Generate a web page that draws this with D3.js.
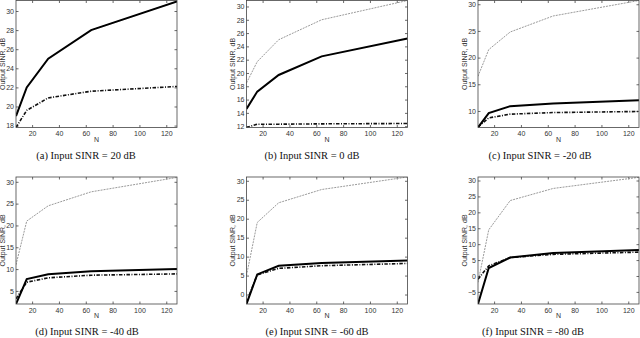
<!DOCTYPE html>
<html>
<head>
<meta charset="utf-8">
<script src="https://cdn.jsdelivr.net/npm/d3@7"></script>
<style>
  body { margin: 0; background: #fff; }
  svg { display: block; }
  .tick text { font-family: "Liberation Sans", Arial, sans-serif; font-size: 7px; fill: #333; }
  .ylab, .xlab { font-family: "Liberation Sans", Arial, sans-serif; font-size: 7px; fill: #333; }
  .cap { font-family: "Liberation Serif", "Times New Roman", serif; font-size: 10.5px; fill: #111; }
</style>
</head>
<body>
<main></main>
<script>
// データ
const N = [8, 16, 32, 64, 128];
const xTicks = [20, 40, 60, 80, 100, 120];
const captions = [
  "(a) Input SINR = 20 dB", "(b) Input SINR = 0 dB", "(c) Input SINR = -20 dB",
  "(d) Input SINR = -40 dB", "(e) Input SINR = -60 dB", "(f) Input SINR = -80 dB"
];
const yDomains = [[17.8, 31.1], [11.8, 30.9], [6.9, 30.7], [2, 31.1], [-2.5, 31], [-8.8, 31.1]];
const yTicks = [
  [18, 20, 22, 24, 26, 28, 30],
  [12, 14, 16, 18, 20, 22, 24, 26, 28, 30],
  [10, 15, 20, 25, 30],
  [5, 10, 15, 20, 25, 30],
  [0, 5, 10, 15, 20, 25, 30],
  [-5, 0, 5, 10, 15, 20, 25, 30]
];
// 灰色の点線
const grayVals = [
  [19, 22, 25, 28, 31],
  [18.5, 21.7, 25, 28, 30.9],
  [16.5, 21.5, 24.8, 27.8, 30.7],
  [11, 21, 24.5, 27.7, 31],
  [5, 19, 24.2, 27.7, 31],
  [-2, 14.5, 23.7, 27.5, 31]
];
// 黒の実線
const solidVals = [
  [19, 22, 25, 28, 31],
  [14.6, 17.2, 19.7, 22.5, 25.2],
  [6.9, 9.6, 10.9, 11.4, 12],
  [2, 7.7, 8.8, 9.5, 10],
  [-2.5, 5.3, 7.6, 8.3, 9],
  [-8.8, 2.5, 5.8, 7.2, 8.2]
];
// 一点鎖線
const dashVals = [
  [17.8, 19.6, 20.9, 21.6, 22.1],
  [11.8, 12.3, 12.3, 12.35, 12.4],
  [7, 8.7, 9.4, 9.7, 9.9],
  [3.2, 7, 8, 8.6, 8.9],
  [-2, 5.2, 6.9, 7.6, 8.2],
  [-1, 3.2, 5.8, 6.8, 7.5]
];

// レイアウト
const width = 640, height = 338;
const colX = [16, 246.5, 478], rowY = [0.5, 177];
const pw = 161, ph = 127;
const capX = [86, 312, 540, 87, 317, 533];

const svg = d3.select("main").append("svg")
    .attr("width", width)
    .attr("height", height);

captions.forEach((cap, i) => {
  const x0 = colX[i % 3], y0 = rowY[Math.floor(i / 3)];
  const g = svg.append("g").attr("transform", `translate(${x0},${y0})`);

  const x = d3.scaleLinear().domain([8, 128]).range([0, pw]);
  const y = d3.scaleLinear().domain(yDomains[i]).range([ph, 0]);

  g.append("clipPath").attr("id", "clip" + i)
    .append("rect").attr("width", pw).attr("height", ph);

  // 軸（目盛りは内向き、四辺）
  const tk = 2.5;
  g.append("g").attr("transform", `translate(0,${ph})`)
    .call(d3.axisBottom(x).tickValues(xTicks).tickSizeInner(-tk).tickSizeOuter(0).tickPadding(4));
  g.append("g")
    .call(d3.axisTop(x).tickValues(xTicks).tickSizeInner(-tk).tickSizeOuter(0).tickFormat(""));
  g.append("g")
    .call(d3.axisLeft(y).tickValues(yTicks[i]).tickSizeInner(-tk).tickSizeOuter(0).tickPadding(2));
  g.append("g").attr("transform", `translate(${pw},0)`)
    .call(d3.axisRight(y).tickValues(yTicks[i]).tickSizeInner(-tk).tickSizeOuter(0).tickFormat(""));
  g.selectAll(".domain").remove();
  g.selectAll(".tick line").attr("stroke", "#444").attr("stroke-width", 0.8);

  const line = d3.line().x((d, j) => x(N[j])).y(d => y(d));
  const lines = g.append("g").attr("clip-path", `url(#clip${i})`);
  lines.append("path").datum(grayVals[i]).attr("d", line)
    .attr("fill", "none").attr("stroke", "#9a9a9a").attr("stroke-width", 1)
    .attr("stroke-dasharray", "2,1");
  lines.append("path").datum(dashVals[i]).attr("d", line)
    .attr("fill", "none").attr("stroke", "#111").attr("stroke-width", 1.6)
    .attr("stroke-dasharray", "3.5,1.5,1,1.5");
  lines.append("path").datum(solidVals[i]).attr("d", line)
    .attr("fill", "none").attr("stroke", "#000").attr("stroke-width", 2);

  g.append("rect").attr("width", pw).attr("height", ph)
    .attr("fill", "none").attr("stroke", "#444").attr("stroke-width", 0.8);

  g.append("text").attr("class", "xlab")
    .attr("x", pw / 2).attr("y", ph + 14).attr("text-anchor", "middle").text("N");
  g.append("text").attr("class", "ylab")
    .attr("transform", `translate(-11.5,${ph / 2}) rotate(-90)`)
    .attr("text-anchor", "middle").text("Output SINR, dB");

  svg.append("text").attr("class", "cap")
    .attr("x", capX[i]).attr("y", y0 + ph + 31)
    .attr("text-anchor", "middle").text(cap);
});
</script>
</body>
</html>
